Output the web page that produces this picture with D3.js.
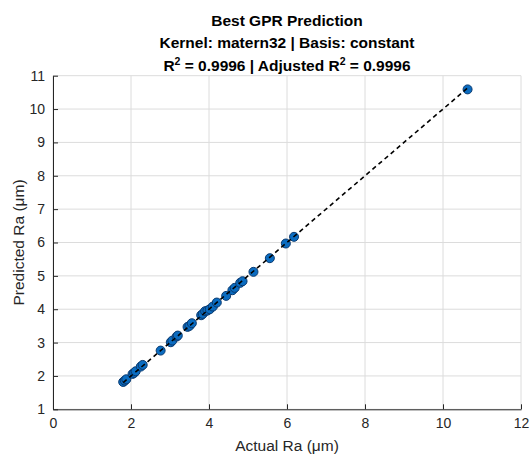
<!DOCTYPE html>
<html>
<head>
<meta charset="utf-8">
<script src="https://cdn.jsdelivr.net/npm/d3@7/dist/d3.min.js"></script>
<style>
  html, body { margin: 0; padding: 0; background: #fff; }
  svg text { font-family: "Liberation Sans", Arial, Helvetica, sans-serif; }
</style>
</head>
<body>
<svg id="chart" width="530" height="458"></svg>
<script>
const actual = [1.80, 1.84, 1.88, 2.04, 2.08, 2.12, 2.25, 2.30, 2.76, 3.02, 3.06, 3.17, 3.20,
                3.45, 3.50, 3.56, 3.80, 3.84, 3.90, 3.96, 4.02, 4.10, 4.20, 4.44, 4.60, 4.66,
                4.80, 4.86, 5.14, 5.56, 5.97, 6.18, 10.63];
const predicted = [1.82, 1.86, 1.90, 2.06, 2.09, 2.14, 2.28, 2.33, 2.76, 3.01, 3.06, 3.18, 3.21,
                   3.47, 3.50, 3.58, 3.82, 3.86, 3.94, 3.96, 4.00, 4.08, 4.20, 4.40, 4.57, 4.64,
                   4.79, 4.84, 5.12, 5.53, 5.97, 6.17, 10.59];
const xTicks = [0, 2, 4, 6, 8, 10, 12];
const yTicks = [1, 2, 3, 4, 5, 6, 7, 8, 9, 10, 11];
const titleLines = ["Best GPR Prediction", "Kernel: matern32 | Basis: constant"];

const svg = d3.select("#chart");
const L = 53, R = 521, T = 75.7, B = 409.3;
const x = d3.scaleLinear().domain([0, 12]).range([L, R]);
const y = d3.scaleLinear().domain([1, 11]).range([B, T]);
const textCol = "#262626";

// grid
const g = svg.append("g");
g.selectAll(".gx").data(xTicks).enter().append("line")
  .attr("x1", d => x(d)).attr("x2", d => x(d)).attr("y1", T).attr("y2", B)
  .attr("stroke", "#dcdcdc").attr("stroke-width", 1);
g.selectAll(".gy").data(yTicks).enter().append("line")
  .attr("x1", L).attr("x2", R).attr("y1", d => y(d)).attr("y2", d => y(d))
  .attr("stroke", "#dcdcdc").attr("stroke-width", 1);

// axes
const xAxis = d3.axisBottom(x).tickValues(xTicks).tickSizeInner(-5).tickSizeOuter(0).tickPadding(9);
const yAxis = d3.axisLeft(y).tickValues(yTicks).tickSizeInner(-5).tickSizeOuter(0).tickPadding(8);
const gx = svg.append("g").attr("transform", `translate(0,${B})`).call(xAxis);
const gy = svg.append("g").attr("transform", `translate(${L},0)`).call(yAxis);
[gx, gy].forEach(a => {
  a.select(".domain").attr("stroke", textCol).attr("stroke-width", 1);
  a.selectAll(".tick line").attr("stroke", textCol);
  a.selectAll(".tick text").attr("fill", textCol).style("font-size", "14px")
    .style("font-family", "'Liberation Sans', Arial, sans-serif");
});

// points
const lo = d3.min(actual), hi = d3.max(actual);
const pts = actual.map((a, i) => ({a, p: predicted[i]}));
svg.append("g").selectAll("circle").data(pts).enter().append("circle")
  .attr("cx", d => x(d.a)).attr("cy", d => y(d.p)).attr("r", 4.5)
  .attr("fill", "#0b6cc0").attr("stroke", "#0a3a70").attr("stroke-width", 1);
// y = x reference line (drawn over points)
svg.append("line")
  .attr("x1", x(lo)).attr("y1", y(lo)).attr("x2", x(hi)).attr("y2", y(hi))
  .attr("stroke", "#000").attr("stroke-width", 1.6).attr("stroke-dasharray", "4.5,3.5");

// titles
const cx = (L + R) / 2;
titleLines.forEach((t, i) => {
  svg.append("text").attr("x", cx).attr("y", 26 + i * 22)
    .attr("text-anchor", "middle").attr("font-weight", "bold")
    .style("font-size", "15.5px").attr("fill", "#000").text(t);
});
const t3 = svg.append("text").attr("x", cx).attr("y", 70.5)
  .attr("text-anchor", "middle").attr("font-weight", "bold")
  .style("font-size", "15.5px").attr("fill", "#000");
t3.append("tspan").text("R");
t3.append("tspan").attr("dy", -6).style("font-size", "10.5px").text("2");
t3.append("tspan").attr("dy", 6).text(" = 0.9996 | Adjusted R");
t3.append("tspan").attr("dy", -6).style("font-size", "10.5px").text("2");
t3.append("tspan").attr("dy", 6).text(" = 0.9996");

// axis labels
svg.append("text").attr("x", cx).attr("y", 451)
  .attr("text-anchor", "middle").style("font-size", "15.5px").attr("fill", textCol)
  .text("Actual Ra (μm)");
svg.append("text").attr("transform", `translate(24,${(T + B) / 2}) rotate(-90)`)
  .attr("text-anchor", "middle").style("font-size", "15.5px").attr("fill", textCol)
  .text("Predicted Ra (μm)");
</script>
</body>
</html>
